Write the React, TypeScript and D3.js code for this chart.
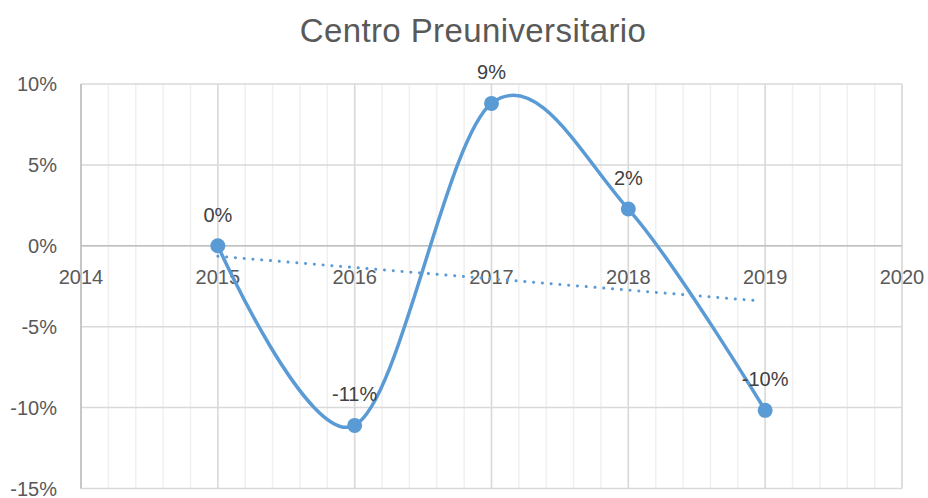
import React from "react";
import * as d3 from "d3";

const title = "Centro Preuniversitario";
const years = [2015, 2016, 2017, 2018, 2019];
const values = [0, -0.111, 0.088, 0.0227, -0.1017];
const labels = ["0%", "-11%", "9%", "2%", "-10%"];
const xTicks = [2014, 2015, 2016, 2017, 2018, 2019, 2020];
const yTicks = [0.1, 0.05, 0, -0.05, -0.1, -0.15];

const W = 928;
const H = 498;
const FONT = "'Liberation Sans', Arial, sans-serif";

const fmtPct = (v: number) => d3.format(".0%")(v).replace("\u2212", "-");

export default function App() {
  const x = d3.scaleLinear().domain([2014, 2020]).range([81, 902]);
  const y = d3.scaleLinear().domain([-0.15, 0.1]).range([488.5, 84]);

  const minorX = d3.range(0, 31).map((i) => 2014 + i * 0.2);

  const pts: [number, number][] = years.map((yr, i) => [x(yr), y(values[i])]);
  const line = d3.line<[number, number]>().curve(d3.curveCardinal.tension(0))(pts) || "";

  // linear trendline (least squares)
  const mx = d3.mean(years) as number;
  const my = d3.mean(values) as number;
  const slope =
    (d3.sum(years.map((yr, i) => (yr - mx) * (values[i] - my))) as number) /
    (d3.sum(years.map((yr) => (yr - mx) ** 2)) as number);
  const trend = (yr: number) => my + slope * (yr - mx);
  const x0 = years[0];
  const x1 = years[years.length - 1] - 0.05;

  return (
    <svg
      width={W}
      height={H}
      style={{ position: "absolute", left: 0, top: 0, background: "#fff" }}
      fontFamily={FONT}
    >
      <rect x={0} y={0} width={W} height={H} fill="#fff" />
      <text x={473} y={42} textAnchor="middle" fontSize={33} fill="#595959" letterSpacing={0.4}>
        {title}
      </text>

      {/* minor vertical grid */}
      {minorX.map((v, i) => (
        <line key={"mx" + i} x1={x(v)} x2={x(v)} y1={y(0.1)} y2={y(-0.15)} stroke="#f0f0f0" strokeWidth={1.5} />
      ))}
      {/* major vertical grid */}
      {xTicks.map((v) => (
        <line key={"vx" + v} x1={x(v)} x2={x(v)} y1={y(0.1)} y2={y(-0.15)} stroke="#d9d9d9" strokeWidth={1.5} />
      ))}
      {/* horizontal grid */}
      {yTicks.map((v) => (
        <line key={"hy" + v} x1={x(2014)} x2={x(2020)} y1={y(v)} y2={y(v)} stroke="#d9d9d9" strokeWidth={1.5} />
      ))}
      {/* axes */}
      <line x1={x(2014)} x2={x(2014)} y1={y(0.1)} y2={y(-0.15)} stroke="#bfbfbf" strokeWidth={1.5} />
      <line x1={x(2014)} x2={x(2020)} y1={y(0)} y2={y(0)} stroke="#bfbfbf" strokeWidth={1.5} />

      {/* y tick labels */}
      {yTicks.map((v) => (
        <text key={"yl" + v} x={57} y={y(v) + 7} textAnchor="end" fontSize={20} fill="#595959">
          {fmtPct(v)}
        </text>
      ))}
      {/* x tick labels */}
      {xTicks.map((v) => (
        <text key={"xl" + v} x={x(v)} y={284} textAnchor="middle" fontSize={20} fill="#595959">
          {v}
        </text>
      ))}

      {/* trendline */}
      <line
        x1={x(x0)}
        y1={y(trend(x0))}
        x2={x(x1)}
        y2={y(trend(x1))}
        stroke="#5B9BD5"
        strokeWidth={3}
        strokeLinecap="round"
        strokeDasharray="0.1 8.7"
      />

      {/* series */}
      <path d={line} fill="none" stroke="#5B9BD5" strokeWidth={3.5} strokeLinecap="round" />
      {pts.map((p, i) => (
        <circle key={"c" + i} cx={p[0]} cy={p[1]} r={7.5} fill="#5B9BD5" />
      ))}
      {pts.map((p, i) => (
        <text key={"dl" + i} x={p[0]} y={p[1] - 24} textAnchor="middle" fontSize={20} fill="#404040">
          {labels[i]}
        </text>
      ))}
    </svg>
  );
}
